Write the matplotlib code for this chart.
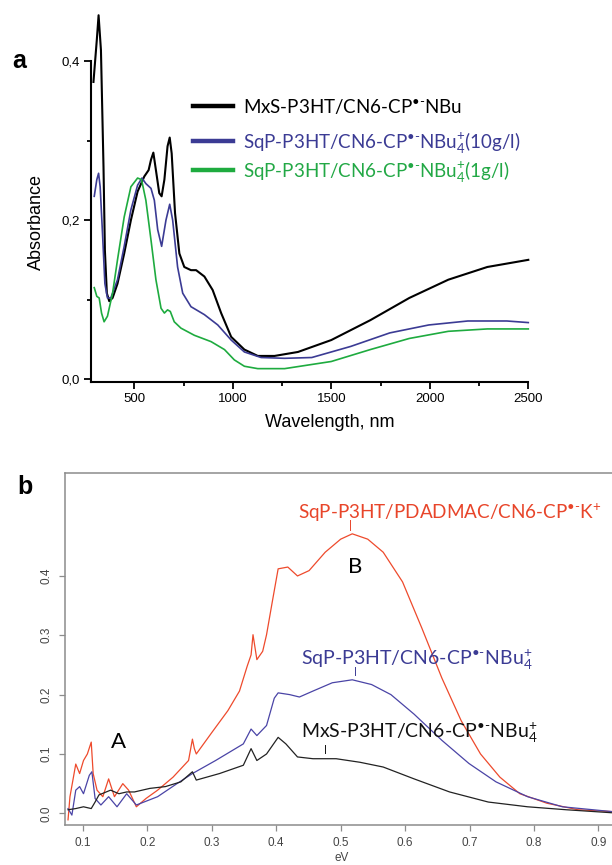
import matplotlib.pyplot as plt
import numpy as np
from matplotlib.lines import Line2D
from matplotlib.ticker import FuncFormatter, MultipleLocator

plt.rcParams.update(
    {
        "font.family": "Liberation Sans",
        "mathtext.fontset": "custom",
        "mathtext.rm": "Lato",
        "mathtext.it": "Lato:italic",
        "mathtext.bf": "Lato:bold",
    }
)

# ---- panel a: UV-vis-NIR absorbance ----
wl_black = [293, 310, 319, 331, 344, 351, 361, 373, 390, 415, 449, 483, 517, 551, 573, 585, 597, 610,
            627, 639, 653, 669, 680, 690, 707, 729, 754, 788, 814, 856, 898, 941, 992, 1059, 1127,
            1212, 1331, 1500, 1698, 1896, 2094, 2292, 2500]
abs_black = [0.374, 0.427, 0.458, 0.414, 0.267, 0.162, 0.108, 0.098, 0.102, 0.120, 0.158, 0.200, 0.236,
             0.255, 0.263, 0.276, 0.285, 0.263, 0.234, 0.230, 0.251, 0.293, 0.304, 0.284, 0.209, 0.158,
             0.141, 0.137, 0.137, 0.129, 0.112, 0.083, 0.053, 0.037, 0.029, 0.029, 0.034, 0.049, 0.074,
             0.102, 0.125, 0.141, 0.150]

wl_blue = [297, 310, 319, 327, 339, 351, 364, 381, 415, 449, 483, 517, 539, 559, 585, 602, 619, 639,
           661, 680, 695, 720, 746, 788, 856, 924, 992, 1059, 1144, 1263, 1401, 1599, 1797, 1995, 2193,
           2391, 2500]
abs_blue = [0.230, 0.251, 0.259, 0.242, 0.183, 0.120, 0.102, 0.102, 0.125, 0.167, 0.213, 0.244, 0.253,
            0.246, 0.240, 0.225, 0.188, 0.167, 0.200, 0.220, 0.200, 0.141, 0.108, 0.091, 0.081, 0.068,
            0.049, 0.034, 0.027, 0.026, 0.027, 0.041, 0.058, 0.068, 0.073, 0.073, 0.071]

wl_green = [297, 310, 322, 334, 347, 364, 390, 415, 449, 483, 517, 537, 559, 585, 610, 636, 653, 669,
            683, 703, 737, 805, 890, 958, 1008, 1059, 1127, 1263, 1500, 1698, 1896, 2094, 2292, 2500]
abs_green = [0.115, 0.104, 0.102, 0.083, 0.072, 0.079, 0.108, 0.150, 0.204, 0.242, 0.253, 0.251, 0.225,
             0.175, 0.125, 0.089, 0.083, 0.087, 0.085, 0.072, 0.064, 0.055, 0.047, 0.037, 0.024, 0.016,
             0.013, 0.013, 0.022, 0.037, 0.051, 0.060, 0.063, 0.063]

RAD = r"$^{\text{•-}}$"
legend_a = [
    "MxS-P3HT/CN6-CP" + RAD + "NBu",
    "SqP-P3HT/CN6-CP" + RAD + r"NBu$_4^{+}$(10g/l)",
    "SqP-P3HT/CN6-CP" + RAD + r"NBu$_4^{+}$(1g/l)",
]
colors_a = ["#000000", "#3b3b94", "#1eab3f"]
text_colors_a = ["#000000", "#3b3b94", "#22a845"]

# ---- panel b: IR absorbance vs photon energy ----
ev_red = [0.077, 0.080, 0.089, 0.095, 0.101, 0.107, 0.113, 0.116, 0.122, 0.131, 0.140, 0.149, 0.162,
          0.171, 0.183, 0.198, 0.216, 0.240, 0.264, 0.270, 0.273, 0.276, 0.300, 0.325, 0.343, 0.355,
          0.361, 0.364, 0.370, 0.379, 0.385, 0.394, 0.403, 0.418, 0.433, 0.451, 0.476, 0.500, 0.518,
          0.542, 0.566, 0.596, 0.626, 0.657, 0.687, 0.717, 0.747, 0.778, 0.820, 0.868, 0.920]
a_red = [-0.011, 0.028, 0.083, 0.067, 0.089, 0.100, 0.120, 0.067, 0.039, 0.028, 0.058, 0.028, 0.050,
         0.039, 0.011, 0.025, 0.039, 0.061, 0.089, 0.125, 0.109, 0.100, 0.136, 0.173, 0.206, 0.248,
         0.267, 0.301, 0.259, 0.273, 0.301, 0.357, 0.412, 0.415, 0.400, 0.409, 0.440, 0.462, 0.471,
         0.462, 0.440, 0.390, 0.312, 0.228, 0.156, 0.100, 0.061, 0.033, 0.017, 0.006, 0.003]

ev_blue = [0.077, 0.083, 0.089, 0.095, 0.101, 0.110, 0.114, 0.119, 0.128, 0.140, 0.153, 0.168, 0.183,
           0.216, 0.246, 0.270, 0.306, 0.349, 0.361, 0.370, 0.385, 0.397, 0.403, 0.421, 0.436, 0.457,
           0.487, 0.518, 0.548, 0.578, 0.614, 0.657, 0.699, 0.741, 0.790, 0.844, 0.920]
a_blue = [0.008, -0.003, 0.039, 0.045, 0.033, 0.064, 0.070, 0.025, 0.014, 0.028, 0.011, 0.033, 0.014,
          0.028, 0.050, 0.067, 0.089, 0.117, 0.142, 0.131, 0.148, 0.194, 0.203, 0.200, 0.196, 0.206,
          0.220, 0.225, 0.217, 0.200, 0.167, 0.123, 0.084, 0.053, 0.028, 0.011, 0.003]

ev_black = [0.077, 0.089, 0.101, 0.113, 0.119, 0.125, 0.143, 0.156, 0.168, 0.180, 0.204, 0.228, 0.252,
            0.270, 0.276, 0.312, 0.349, 0.361, 0.370, 0.385, 0.403, 0.415, 0.433, 0.457, 0.493, 0.530,
            0.566, 0.614, 0.669, 0.729, 0.790, 0.850, 0.920]
a_black = [0.006, 0.008, 0.011, 0.008, 0.019, 0.031, 0.039, 0.033, 0.036, 0.036, 0.042, 0.045, 0.053,
           0.070, 0.056, 0.067, 0.081, 0.109, 0.089, 0.100, 0.128, 0.117, 0.095, 0.092, 0.092, 0.086,
           0.078, 0.058, 0.036, 0.019, 0.011, 0.006, 0.001]

labels_b = [
    "SqP-P3HT/PDADMAC/CN6-CP" + RAD + r"K$^{+}$",
    "SqP-P3HT/CN6-CP" + RAD + r"NBu$_4^{+}$",
    "MxS-P3HT/CN6-CP" + RAD + r"NBu$_4^{+}$",
]
colors_b = ["#ee4a2c", "#4a44a6", "#222222"]
text_colors_b = ["#e8452a", "#3b3b94", "#111111"]
label_sizes_b = [13.6, 14, 14]
# label anchor (eV, abs) and the short pointer drawn from each label toward its curve maximum
label_pos_b = [(0.434, 0.496), (0.439, 0.250), (0.439, 0.127)]
pointer_x_b = [0.515, 0.5225, 0.476]
pointer_y_b = [(0.4946, 0.478), (0.247, 0.233), (0.115, 0.1015)]

W, H = 612, 865
fig = plt.figure(figsize=(W / 100, H / 100), dpi=100)

# ---------------- panel a ----------------
ax_a = fig.add_axes([90.7 / W, 1 - 382.3 / H, (528.3 - 90.7) / W, (382.3 - 61.3) / H])
for x, y, c, lw in zip([wl_black, wl_blue, wl_green], [abs_black, abs_blue, abs_green], colors_a, [1.5, 1.2, 1.2]):
    ax_a.plot(x, y, color=c, linewidth=lw, clip_on=False, solid_joinstyle="round")
ax_a.set_xlim(279, 2500)
ax_a.set_ylim(-0.0042, 0.4)
for side in ("top", "right"):
    ax_a.spines[side].set_visible(False)
for side in ("left", "bottom"):
    ax_a.spines[side].set_linewidth(1.5)
ax_a.xaxis.set_major_locator(MultipleLocator(500))
ax_a.xaxis.set_minor_locator(MultipleLocator(250))
ax_a.yaxis.set_major_locator(MultipleLocator(0.2))
ax_a.yaxis.set_minor_locator(MultipleLocator(0.1))
ax_a.yaxis.set_major_formatter(FuncFormatter(lambda v, _: f"{v:.1f}".replace(".", ",")))
ax_a.tick_params(which="major", direction="out", length=5, width=1.3, labelsize=9.5, pad=3)
ax_a.tick_params(which="minor", direction="out", length=3, width=1.3)
ax_a.set_ylabel("Absorbance", fontsize=13)
ax_a.set_xlabel("Wavelength, nm", fontsize=13)
ax_a.yaxis.set_label_coords(-0.105, 0.5)
ax_a.xaxis.set_label_coords(0.547, -0.10)

legend_rows = [113, 148, 177]
for label, lc, tc, row in zip(legend_a, colors_a, text_colors_a, legend_rows):
    yl = 1 - (row - 7) / H
    fig.add_artist(Line2D([193 / W, 233 / W], [yl, yl], color=lc, linewidth=3.2))
    fig.text(243 / W, 1 - row / H, label, color=tc, fontsize=13.5, family="Lato", va="baseline")

fig.text(12 / W, 1 - 61 / H, "a", fontsize=18, fontweight="bold", va="center")

# ---------------- panel b ----------------
ax_b = fig.add_axes([65 / W, 1 - 825 / H, 565.7 / W, (825 - 473.3) / H])
for x, y, c in zip([ev_red, ev_blue, ev_black], [a_red, a_blue, a_black], colors_b):
    ax_b.plot(x, y, color=c, linewidth=0.9)
ax_b.set_xlim(0.0723, 0.95)
ax_b.set_ylim(-0.0197, 0.573)
for spine in ax_b.spines.values():
    spine.set_color("#8c8c8c")
    spine.set_linewidth(1.1)
ax_b.set_xticks(np.arange(1, 10) / 10)
ax_b.set_yticks(np.arange(0, 5) / 10)
ax_b.tick_params(direction="out", length=4, width=0.9, color="#8c8c8c", labelsize=8.5,
                 labelcolor="#444444", pad=5)
for lab in ax_b.get_yticklabels():
    lab.set_rotation(90)
    lab.set_va("center")

for label, tc, fs, (tx, ty), px, (py0, py1) in zip(labels_b, text_colors_b, label_sizes_b, label_pos_b,
                                                    pointer_x_b, pointer_y_b):
    ax_b.text(tx, ty, label, color=tc, fontsize=fs, family="Lato", va="baseline")
    ax_b.plot([px, px], [py0, py1], color=tc, linewidth=0.7)

ax_b.text(0.1548, 0.1205, "A", fontsize=16, family="Lato", ha="center", va="center")
ax_b.text(0.5225, 0.4154, "B", fontsize=16, family="Lato", ha="center", va="center")
fig.text(342 / W, 1 - 858 / H, "eV", fontsize=8.5, color="#444444", ha="center", va="center")
fig.text(17 / W, 1 - 487 / H, "b", fontsize=18, fontweight="bold", va="center")

fig.savefig("out.png", dpi=100)
